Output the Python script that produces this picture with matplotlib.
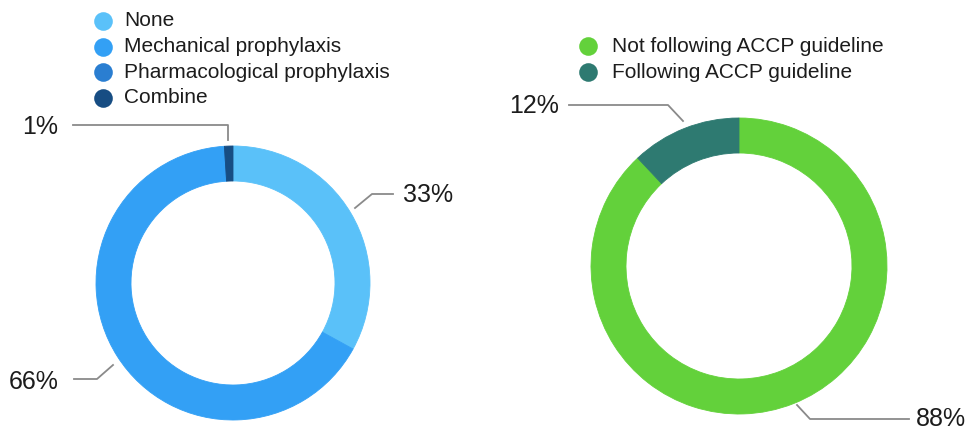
import matplotlib
matplotlib.use("Agg")
import matplotlib.pyplot as plt
from matplotlib.lines import Line2D

plt.rcParams['font.family'] = ['Liberation Sans', 'DejaVu Sans']

# --- datos ---
prof_labels = ['None', 'Mechanical prophylaxis', 'Pharmacological prophylaxis', 'Combine']
prof_values = [33, 66, 0, 1]
prof_colors = ['#5ac1f9', '#33a0f5', '#2a7ed1', '#174d83']

accp_labels = ['Not following ACCP guideline', 'Following ACCP guideline']
accp_values = [88, 12]
accp_colors = ['#63d13b', '#2e7a71']

W, H = 971, 430
fig = plt.figure(figsize=(W / 100, H / 100), dpi=100)
ax = fig.add_axes([0, 0, 1, 1])


def Y(py):
    # coordenadas de pixel con origen arriba
    return H - py


txt_color = '#1c1c1c'
line_color = '#8a8a8a'


def donut(values, colors, center, radius, width):
    wedges, _ = ax.pie(values, colors=colors, startangle=90, counterclock=False,
                       center=(center[0], Y(center[1])), radius=radius,
                       wedgeprops=dict(width=width, linewidth=0.6),
                       frame=True)
    for w in wedges:
        w.set_edgecolor(w.get_facecolor())


donut(prof_values, prof_colors, (233, 283), 137, 35)
donut(accp_values, accp_colors, (739, 266), 148, 35)
ax.set_xlim(0, W)
ax.set_ylim(0, H)
ax.set_aspect('equal')
ax.axis('off')


def leader(pts, label, tx, ty, ha='left'):
    xs = [p[0] for p in pts]
    ys = [Y(p[1]) for p in pts]
    ax.add_line(Line2D(xs, ys, color=line_color, lw=1.3))
    ax.text(tx, Y(ty), label, fontsize=18, color=txt_color, ha=ha, va='center')


# etiquetas con líneas guía
leader([(73, 125), (228, 125), (228, 140)], f'{prof_values[3]}%', 22, 127)
leader([(355, 208), (372, 194), (393, 194)], f'{prof_values[0]}%', 403, 195)
leader([(74, 379), (97, 379), (113, 365)], f'{prof_values[1]}%', 9, 382)
leader([(569, 105), (668, 105), (683, 121)], f'{accp_values[1]}%', 509, 106)
leader([(797, 405), (810, 419), (909, 419)], f'{accp_values[0]}%', 916, 419)


def legend(labels, colors, mx, tx, y0, dy):
    for i, (lab, c) in enumerate(zip(labels, colors)):
        y = y0 + i * dy
        ax.scatter([mx], [Y(y)], s=180, color=c, zorder=5, linewidths=0)
        ax.text(tx, Y(y), lab, fontsize=15, color=txt_color, ha='left', va='center')


legend(prof_labels, prof_colors, 103, 124, 21, 25.5)
legend(accp_labels, accp_colors, 588, 612, 46, 26)

fig.savefig('out.png', dpi=100, facecolor='white')
